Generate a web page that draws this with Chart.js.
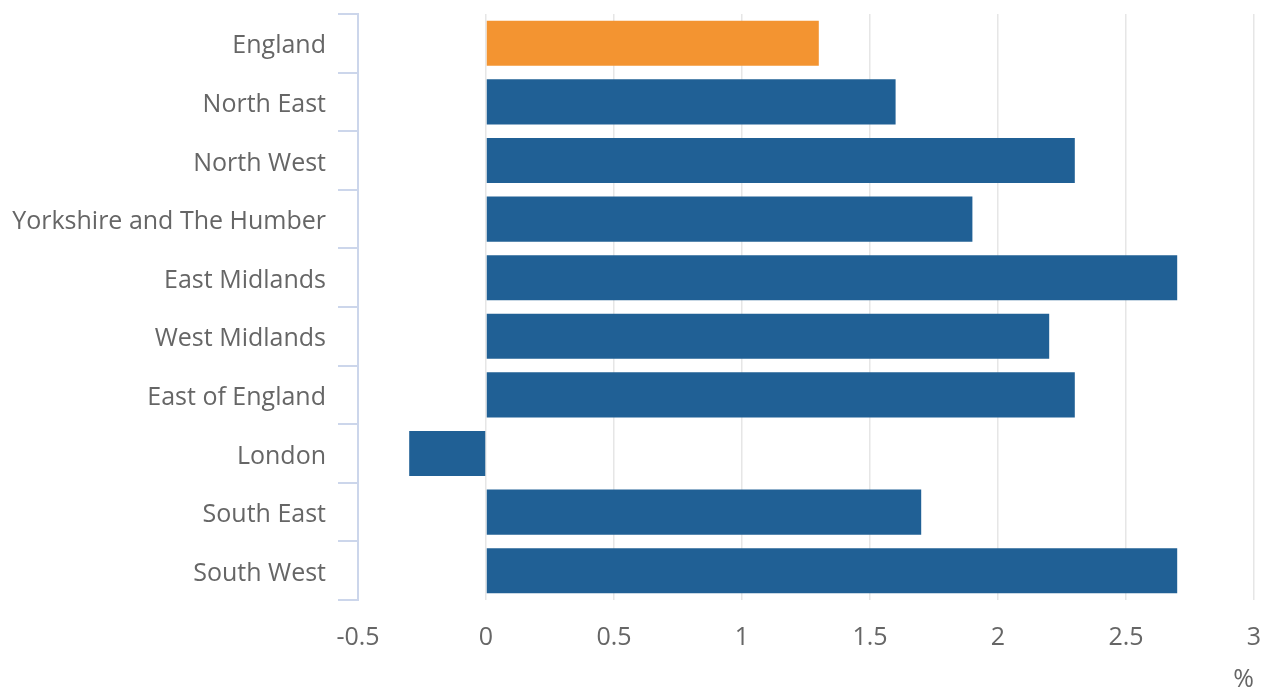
<!DOCTYPE html>
<html>
<head>
<meta charset="utf-8">
<script src="https://cdn.jsdelivr.net/npm/chart.js@4"></script>
<style>
  html, body { margin: 0; padding: 0; background: #ffffff; }
  #wrap { width: 1268px; height: 690px; position: relative; }
</style>
</head>
<body>
<div id="wrap"><canvas id="c"></canvas></div>
<script>
const categories = ["England", "North East", "North West", "Yorkshire and The Humber", "East Midlands", "West Midlands", "East of England", "London", "South East", "South West"];
const values = [1.3, 1.6, 2.3, 1.9, 2.7, 2.2, 2.3, -0.3, 1.7, 2.7];
const xMin = -0.5, xMax = 3, xStep = 0.5;
const axisTitle = "%";

const ORANGE = "#F39431";
const BLUE = "#206095";
const barColors = categories.map(c => c === "England" ? ORANGE : BLUE);

const FONT = "'Open Sans', sans-serif";
const TXT = "#666666";

new Chart(document.getElementById("c"), {
  type: "bar",
  data: {
    labels: categories,
    datasets: [{
      data: values,
      backgroundColor: barColors,
      borderWidth: 0,
      categoryPercentage: 1.0,
      barPercentage: 0.77
    }]
  },
  options: {
    indexAxis: "y",
    responsive: true,
    maintainAspectRatio: false,
    animation: false,
    layout: { padding: { top: 14, right: 14, left: 0, bottom: 0 } },
    plugins: { legend: { display: false }, tooltip: { enabled: false } },
    scales: {
      x: {
        type: "linear",
        min: xMin, max: xMax,
        ticks: {
          stepSize: xStep,
          color: TXT,
          font: { family: FONT, size: 25 },
          padding: 23,
          callback: v => String(v)
        },
        grid: { color: "#e6e6e6", lineWidth: 1.5, drawTicks: false },
        border: { display: false },
        title: {
          display: true, text: axisTitle, align: "end", color: TXT,
          font: { family: FONT, size: 25 }, padding: { top: 0, bottom: -5 }
        },
        afterFit: s => { s.height = 90; s.paddingLeft = 0; s.paddingRight = 0; }
      },
      y: {
        type: "category",
        ticks: {
          color: TXT,
          font: { family: FONT, size: 25 },
          padding: 12,
          labelOffset: 3
        },
        grid: { drawOnChartArea: false, drawTicks: true, tickLength: 20, color: "#ccd6eb", lineWidth: 2, offset: true },
        border: { display: true, color: "#ccd6eb", width: 2 },
        afterFit: s => { s.width = 358; s.paddingTop = 0; s.paddingBottom = 0; }
      }
    }
  }
});
</script>
</body>
</html>
